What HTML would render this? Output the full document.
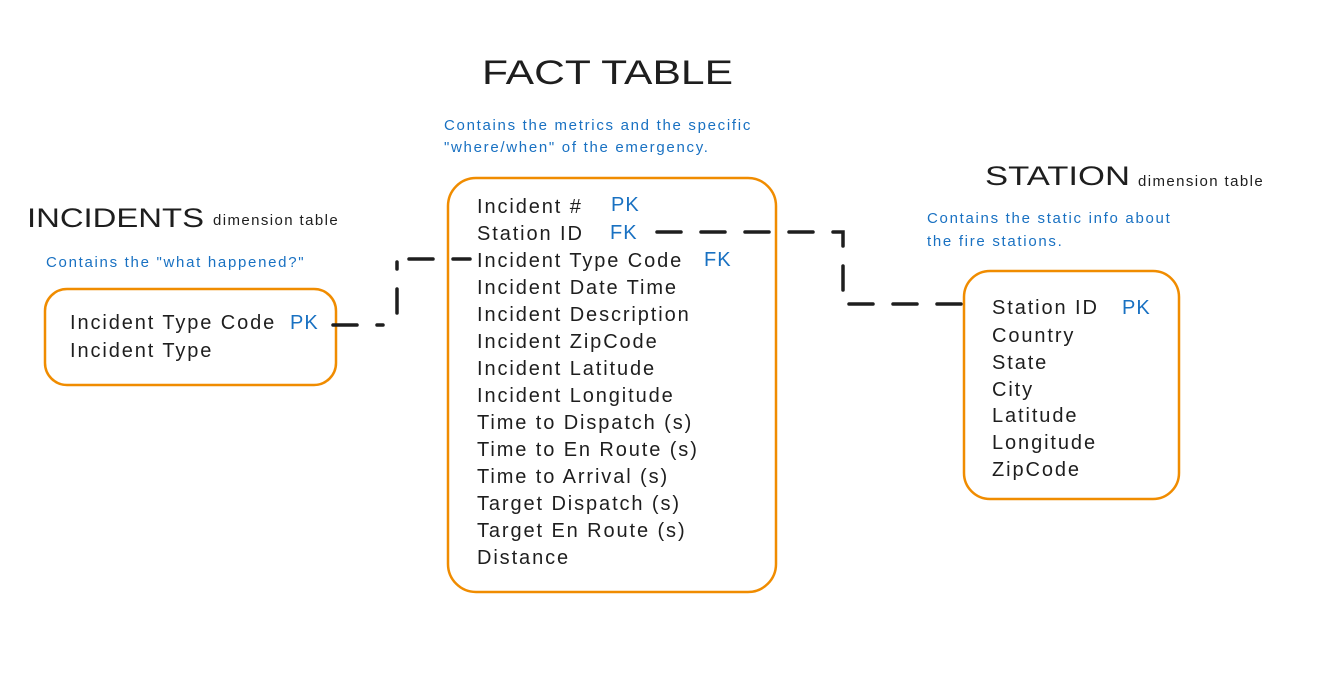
<!DOCTYPE html>
<html><head><meta charset="utf-8"><style>
html,body{margin:0;padding:0;background:#fff;}
svg{display:block;}
text{font-family:"Liberation Sans",sans-serif;}
.b{font-size:20px;fill:#1e1e1e;letter-spacing:1.9px;}
.k{font-size:20px;fill:#1971c2;letter-spacing:1px;}
.n{font-size:15px;fill:#1971c2;letter-spacing:1.7px;}
.s{font-size:15px;fill:#1e1e1e;letter-spacing:1.4px;}
.h{font-size:34px;fill:#1e1e1e;}
</style></head><body>
<svg width="1317" height="674" viewBox="0 0 1317 674">
<g fill="none" stroke="#f08c00" stroke-width="2.5">
<rect x="448" y="178" width="328" height="414" rx="28"/>
<rect x="45" y="289" width="291" height="96" rx="22"/>
<rect x="964" y="271" width="215" height="228" rx="26"/>
</g>
<g fill="none" stroke="#1e1e1e" stroke-width="3.5" stroke-linecap="round" stroke-dasharray="24 20">
<path d="M333 325 H383 M397 313 V262 M409 259 H470"/>
<path d="M657 232 H843 V304 H978"/>
</g>
<text class="h" x="482" y="84" textLength="251" lengthAdjust="spacingAndGlyphs">FACT TABLE</text>
<text class="n" x="444" y="130">Contains the metrics and the specific</text>
<text class="n" x="444" y="152">"where/when" of the emergency.</text>
<text class="h" x="27" y="227" style="font-size:27px" textLength="177" lengthAdjust="spacingAndGlyphs">INCIDENTS</text>
<text class="s" x="213" y="225">dimension table</text>
<text class="n" x="46" y="267">Contains the "what happened?"</text>
<text class="h" x="985" y="185" style="font-size:27px" textLength="145" lengthAdjust="spacingAndGlyphs">STATION</text>
<text class="s" x="1138" y="186">dimension table</text>
<text class="n" x="927" y="223">Contains the static info about</text>
<text class="n" x="927" y="246">the fire stations.</text>
<g class="b">
<text x="70" y="329">Incident Type Code</text>
<text x="70" y="357">Incident Type</text>
</g>
<text class="k" x="290" y="329">PK</text>
<g class="b">
<text x="477" y="213">Incident #</text>
<text x="477" y="240">Station ID</text>
<text x="477" y="267">Incident Type Code</text>
<text x="477" y="294">Incident Date Time</text>
<text x="477" y="321">Incident Description</text>
<text x="477" y="348">Incident ZipCode</text>
<text x="477" y="375">Incident Latitude</text>
<text x="477" y="402">Incident Longitude</text>
<text x="477" y="429">Time to Dispatch (s)</text>
<text x="477" y="456">Time to En Route (s)</text>
<text x="477" y="483">Time to Arrival (s)</text>
<text x="477" y="510">Target Dispatch (s)</text>
<text x="477" y="537">Target En Route (s)</text>
<text x="477" y="564">Distance</text>
</g>
<text class="k" x="611" y="211">PK</text>
<text class="k" x="610" y="239">FK</text>
<text class="k" x="704" y="266">FK</text>
<g class="b">
<text x="992" y="314">Station ID</text>
<text x="992" y="342">Country</text>
<text x="992" y="369">State</text>
<text x="992" y="396">City</text>
<text x="992" y="422">Latitude</text>
<text x="992" y="449">Longitude</text>
<text x="992" y="476">ZipCode</text>
</g>
<text class="k" x="1122" y="314">PK</text>
</svg>
</body></html>
